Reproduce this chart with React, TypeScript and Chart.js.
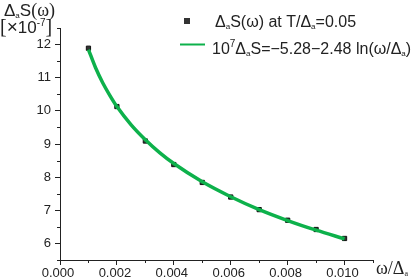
import React, { useEffect, useRef } from "react";
import { Chart, registerables } from "chart.js";

Chart.register(...registerables);

const omegaPoints = [0.001, 0.002, 0.003, 0.004, 0.005, 0.006, 0.007, 0.008, 0.009, 0.01];
const deltaSPoints = [11.89, 10.13, 9.09, 8.38, 7.84, 7.4, 7.02, 6.7, 6.42, 6.15];

const fitOmega = [0.001, 0.00125, 0.0015, 0.00175, 0.002, 0.0025, 0.003, 0.0035, 0.004, 0.005, 0.006, 0.007, 0.008, 0.009, 0.01];
const fitDeltaS = [11.85, 11.3, 10.85, 10.47, 10.13, 9.58, 9.13, 8.74, 8.41, 7.86, 7.41, 7.02, 6.69, 6.4, 6.14];

const xMajorTicks = [0, 0.002, 0.004, 0.006, 0.008, 0.01];
const xMinorTicks = [0.001, 0.003, 0.005, 0.007, 0.009, 0.011];
const yMajorTicks = [6, 7, 8, 9, 10, 11, 12];
const yMinorTicks = [5.5, 6.5, 7.5, 8.5, 9.5, 10.5, 11.5, 12.5];

const GREEN = "#0db14b";
const INK = "#222";
const SANS = "Arial, 'Liberation Sans', sans-serif";
const SERIF = "'Times New Roman', 'Liberation Serif', serif";

type Run = { t: string; size: number; family?: string; dy?: number };

function drawRuns(ctx: CanvasRenderingContext2D, x: number, y: number, runs: Run[]) {
  let cx = x;
  for (const r of runs) {
    ctx.font = `${r.size}px ${r.family || SANS}`;
    ctx.fillText(r.t, cx, y + (r.dy || 0));
    cx += ctx.measureText(r.t).width;
  }
}

const overlayPlugin = {
  id: "overlay",
  afterDraw(chart: any) {
    const ctx: CanvasRenderingContext2D = chart.ctx;
    const xs = chart.scales.x;
    const ys = chart.scales.y;
    const area = chart.chartArea;
    ctx.save();
    ctx.strokeStyle = INK;
    ctx.lineWidth = 1;
    ctx.beginPath();
    for (const v of yMinorTicks) {
      const py = Math.round(ys.getPixelForValue(v)) + 0.5;
      ctx.moveTo(area.left - 3, py);
      ctx.lineTo(area.left, py);
    }
    for (const v of xMinorTicks) {
      const px = Math.round(xs.getPixelForValue(v)) + 0.5;
      ctx.moveTo(px, area.bottom);
      ctx.lineTo(px, area.bottom + 3);
    }
    ctx.stroke();

    ctx.fillStyle = INK;
    ctx.textBaseline = "alphabetic";
    ctx.textAlign = "left";

    // legend
    ctx.fillStyle = "#333";
    ctx.fillRect(184, 18, 6, 6);
    ctx.fillStyle = INK;
    drawRuns(ctx, 215, 27, [
      { t: "Δ", size: 16 },
      { t: "a", size: 8, dy: 2 },
      { t: "S(ω) at T/Δ", size: 16 },
      { t: "a", size: 8, dy: 2 },
      { t: "=0.05", size: 16 },
    ]);
    ctx.strokeStyle = GREEN;
    ctx.lineWidth = 2;
    ctx.beginPath();
    ctx.moveTo(180, 44.5);
    ctx.lineTo(205, 44.5);
    ctx.stroke();
    drawRuns(ctx, 212, 54, [
      { t: "10", size: 16 },
      { t: "7", size: 10, dy: -7 },
      { t: "Δ", size: 16 },
      { t: "a", size: 8, dy: 2 },
      { t: "S=−5.28−2.48 ln(ω/Δ", size: 16 },
      { t: "a", size: 8, dy: 2 },
      { t: ")", size: 16 },
    ]);

    // y title
    drawRuns(ctx, 4, 16, [
      { t: "Δ", size: 17 },
      { t: "a", size: 8, dy: 2 },
      { t: "S", size: 17 },
      { t: "(ω)", size: 18, family: SERIF },
    ]);
    drawRuns(ctx, 0, 33, [
      { t: "[", size: 20, family: SERIF },
      { t: "×", size: 19 },
      { t: "10", size: 17 },
      { t: "-7", size: 10, dy: -7 },
      { t: "]", size: 20, family: SERIF },
    ]);

    // x title
    drawRuns(ctx, 376, 274, [
      { t: "ω/Δ", size: 18, family: SERIF },
      { t: "a", size: 8, dy: 2, family: SERIF },
    ]);
    ctx.restore();
  },
};

export default function App() {
  const ref = useRef<HTMLCanvasElement | null>(null);
  useEffect(() => {
    if (!ref.current) return;
    const chart = new Chart(ref.current, {
      type: "scatter",
      data: {
        datasets: [
          {
            label: "fit",
            data: fitOmega.map((x, i) => ({ x, y: fitDeltaS[i] })),
            showLine: true,
            borderColor: GREEN,
            borderWidth: 3.5,
            pointRadius: 0,
            cubicInterpolationMode: "monotone",
            fill: false,
          },
          {
            label: "data",
            data: omegaPoints.map((x, i) => ({ x, y: deltaSPoints[i] })),
            showLine: false,
            pointStyle: "rect",
            pointRadius: 3,
            backgroundColor: "#333",
            borderColor: "#111",
            borderWidth: 1,
          },
        ],
      },
      options: {
        responsive: false,
        animation: false,
        events: [],
        layout: { padding: { top: 28, right: 42, left: 0, bottom: 0 } },
        plugins: { legend: { display: false }, tooltip: { enabled: false } },
        scales: {
          x: {
            type: "linear",
            min: 0,
            max: 0.011,
            afterBuildTicks: (s: any) => {
              s.ticks = xMajorTicks.map((v) => ({ value: v }));
            },
            afterFit: (s: any) => {
              s.height = 19;
            },
            ticks: {
              autoSkip: false,
              maxRotation: 0,
              padding: 1,
              labelOffset: -2,
              color: INK,
              font: { family: SANS, size: 13 },
              callback: (v: any) => Number(v).toFixed(3),
            },
            grid: { drawOnChartArea: false, drawTicks: true, tickLength: 5, color: INK },
            border: { display: true, color: INK, width: 1 },
          },
          y: {
            type: "linear",
            min: 5.5,
            max: 12.5,
            afterBuildTicks: (s: any) => {
              s.ticks = yMajorTicks.map((v) => ({ value: v }));
            },
            afterFit: (s: any) => {
              s.width = 60;
            },
            ticks: {
              autoSkip: false,
              padding: 4,
              color: INK,
              font: { family: SANS, size: 13 },
              callback: (v: any) => String(v),
            },
            grid: { drawOnChartArea: false, drawTicks: true, tickLength: 5, color: INK },
            border: { display: true, color: INK, width: 1 },
          },
        },
      },
      plugins: [overlayPlugin],
    } as any);
    return () => chart.destroy();
  }, []);
  return (
    <div style={{ position: "fixed", left: 0, top: 0, width: 415, height: 279, background: "#fff" }}>
      <canvas ref={ref} width={415} height={279} style={{ width: 415, height: 279, display: "block" }} />
    </div>
  );
}
